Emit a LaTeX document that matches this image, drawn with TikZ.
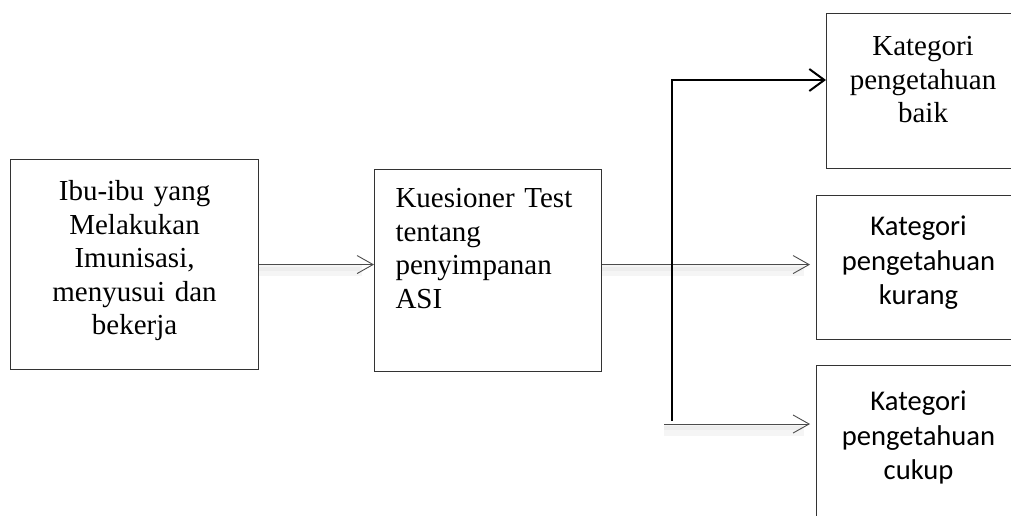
\documentclass[tikz,border=0pt]{standalone}
\usepackage{fontspec}
\setmainfont{Liberation Serif}
\newfontfamily\calibri{Carlito}
\usetikzlibrary{arrows.meta,positioning}

\begin{document}
\begin{tikzpicture}
  [x=1pt,y=-1pt,
   every node/.style={rectangle, draw=black!80, line width=1.1pt, anchor=north west,
     inner xsep=0pt, inner ysep=0pt, align=center,
     font=\fontsize{29}{33.5}\selectfont},
   kat/.style={font=\calibri\fontsize{28.6}{34.5}\selectfont, text width=204pt},
   panah/.style={draw=black!70, line width=0.9pt, shorten >=6pt,
     -{Straight Barb[length=16pt,width=18pt]},
     preaction={draw=black!4, line width=11pt, -, shorten >=12pt, transform canvas={yshift=-6pt}},
     preaction={draw=black!7, line width=4pt, -, shorten >=14pt, transform canvas={yshift=-4pt}}}]
  \useasboundingbox (0,0) rectangle (1011,515);
  \clip (0,0) rectangle (1011,515);

  \node[text width=248pt, text height=41pt, text depth=169pt] (ibu) at (10,159)
    {Ibu-ibu yang\\ Melakukan\\ Imunisasi,\\ menyusui dan\\ bekerja};
  \node[align=left, inner xsep=21pt, text width=185pt, text height=38pt, text depth=164pt] (kues) at (374,169)
    {Kuesioner Test\\ tentang\\ penyimpanan\\ ASI};
  \node[text width=193pt, text height=42pt, text depth=113pt] (baik) at (826,13)
    {Kategori\\ pengetahuan\\ baik};
  \node[kat, text height=40pt, text depth=104pt] (kurang) at (816,195)
    {Kategori\\ pengetahuan\\ kurang};
  \node[kat, text height=45pt, text depth=150pt] (cukup) at (816,365)
    {Kategori\\ pengetahuan\\ cukup};

  \coordinate (atas) at (672,80);
  \coordinate (bawah) at (672,421);
  \coordinate (pangkal) at (664,424);

\path
    (ibu.east) edge [panah, shorten >=0pt] (ibu.east -| kues.west)
    (kues.east |- ibu.east) edge [panah] (kurang.west |- ibu.east)
    (pangkal) edge [panah] (pangkal -| cukup.west)
;
  \draw[black, line width=2pt, -{Straight Barb[length=15pt,width=22pt]}]
    (bawah) -- (atas) -- (atas -| baik.west);
\end{tikzpicture}
\end{document}
